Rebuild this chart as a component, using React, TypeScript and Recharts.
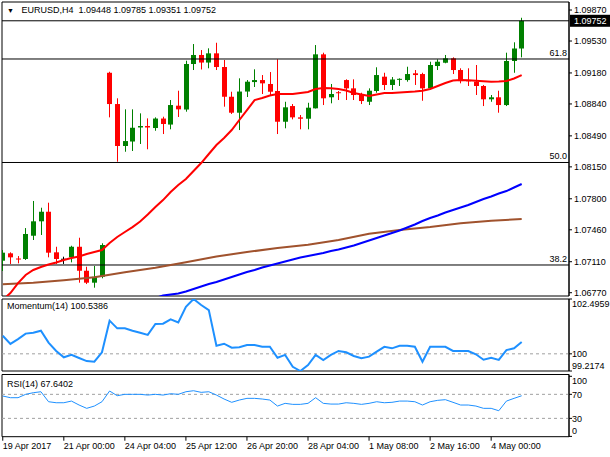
import React from "react";
import {
  Bar,
  ComposedChart,
  Line,
  LineChart,
  ReferenceArea,
  ReferenceLine,
  XAxis,
  YAxis,
} from "recharts";

// EURUSD H4 — candles, three moving averages, Momentum(14) and RSI(14) panes.
const FONT = "'Liberation Sans', Arial, sans-serif";
const UP = "#008000";
const DOWN = "#FF0000";
const DOJI = "#000000";

const opens = [
  1.07121, 1.07202, 1.07145, 1.0714, 1.07395, 1.07553, 1.07658, 1.07213, 1.07137, 1.07158,
  1.07274, 1.07011, 1.0688, 1.06945, 1.09182, 1.08839, 1.08379, 1.08428, 1.08582, 1.08598,
  1.08576, 1.0868, 1.08614, 1.08821, 1.08779, 1.09278, 1.09377, 1.09294, 1.09395, 1.09245,
  1.08919, 1.08744, 1.08976, 1.0908, 1.09102, 1.09059, 1.08982, 1.08645, 1.08817, 1.08693,
  1.08678, 1.08792, 1.09384, 1.08913, 1.08963, 1.09102, 1.09011, 1.08938, 1.08864, 1.08982,
  1.09139, 1.09048, 1.09102, 1.09102, 1.09176, 1.09168, 1.09011, 1.09256, 1.09292, 1.0934,
  1.09212, 1.09102, 1.09084, 1.09037, 1.08891, 1.08913, 1.08828, 1.09311, 1.09448,
];
const highs = [
  1.07238, 1.07213, 1.07172, 1.07479, 1.07776, 1.07702, 1.07757, 1.07274, 1.07165, 1.07285,
  1.07373, 1.07055, 1.07063, 1.07312, 1.09193, 1.08902, 1.08781, 1.08781, 1.08737, 1.08682,
  1.08693, 1.087, 1.08883, 1.08985, 1.09314, 1.09497, 1.09431, 1.0945, 1.09511, 1.09322,
  1.08974, 1.09121, 1.09102, 1.0922, 1.09157, 1.0919, 1.09329, 1.08864, 1.08839, 1.08719,
  1.08853, 1.09486, 1.09402, 1.09059, 1.08982, 1.0911, 1.0911, 1.08963, 1.09011, 1.09242,
  1.09182, 1.09135, 1.09121, 1.09248, 1.09212, 1.09182, 1.09303, 1.09329, 1.09377, 1.09351,
  1.09231, 1.09231, 1.09267, 1.09048, 1.08938, 1.08985, 1.09402, 1.09516, 1.09785,
];
const lows = [
  1.07008, 1.07085, 1.07092, 1.07129, 1.07348, 1.07403, 1.07158, 1.07085, 1.07085, 1.07103,
  1.0688, 1.06865, 1.06825, 1.06928, 1.08693, 1.08207, 1.08316, 1.08324, 1.08401, 1.08343,
  1.08546, 1.0851, 1.08562, 1.08697, 1.08755, 1.09212, 1.09218, 1.09231, 1.09212, 1.0881,
  1.0873, 1.08554, 1.08916, 1.09026, 1.08949, 1.08927, 1.0851, 1.08573, 1.08671, 1.08562,
  1.08562, 1.0879, 1.08828, 1.08847, 1.08883, 1.08883, 1.08883, 1.08839, 1.08828, 1.08963,
  1.08993, 1.08993, 1.09037, 1.09084, 1.09048, 1.08875, 1.09, 1.09212, 1.09286, 1.09168,
  1.09066, 1.09037, 1.08938, 1.08817, 1.08864, 1.08744, 1.08817, 1.09182, 1.09351,
];
const closes = [
  1.07209, 1.07158, 1.07134, 1.07414, 1.07553, 1.07658, 1.07209, 1.0714, 1.07137, 1.07274,
  1.07011, 1.0688, 1.06945, 1.07293, 1.08839, 1.08379, 1.08433, 1.08579, 1.08598, 1.08582,
  1.0868, 1.0862, 1.08828, 1.08781, 1.09278, 1.09377, 1.09294, 1.09395, 1.09245, 1.08919,
  1.08744, 1.08976, 1.09084, 1.09102, 1.09066, 1.08974, 1.08645, 1.08803, 1.08693, 1.08678,
  1.08799, 1.09384, 1.08902, 1.08949, 1.08957, 1.09011, 1.08938, 1.08872, 1.08985, 1.09157,
  1.09048, 1.09108, 1.0911, 1.09168, 1.09157, 1.09011, 1.09267, 1.09303, 1.0934, 1.09212,
  1.09091, 1.09088, 1.09037, 1.08891, 1.08913, 1.08828, 1.09311, 1.09448, 1.09752,
];

// moving averages (red fast, blue mid, brown slow)
const maRed = [
  1.0669, 1.06767, 1.06876, 1.06964, 1.07019, 1.07052, 1.07079, 1.07101, 1.07129, 1.0715,
  1.07167, 1.07194, 1.07216, 1.07238, 1.07315, 1.07381, 1.07436, 1.0749, 1.07551, 1.07627,
  1.0771, 1.07786, 1.07874, 1.07951, 1.08017, 1.08104, 1.08192, 1.08291, 1.0839, 1.08466,
  1.08554, 1.08664, 1.08773, 1.08883, 1.08905, 1.08932, 1.08949, 1.08949, 1.08949, 1.0896,
  1.08971, 1.09004, 1.09015, 1.09011, 1.09004, 1.08987, 1.0896, 1.08943, 1.08927, 1.08943,
  1.0896, 1.0896, 1.08965, 1.08971, 1.08976, 1.08985, 1.09004, 1.09037, 1.0907, 1.09097,
  1.09102, 1.09099, 1.09095, 1.09089, 1.09084, 1.09086, 1.09091, 1.09119, 1.09157,
];
const maBlue = [
  null, null, null, null, null, null, null, null, null, null,
  null, null, null, null, null, null, null, null, null, null,
  1.06712, 1.06739, 1.0675, 1.06761, 1.06783, 1.06811, 1.06838, 1.06865, 1.06887, 1.06915,
  1.06942, 1.0697, 1.06997, 1.07019, 1.07046, 1.07068, 1.0709, 1.07112, 1.07134, 1.07156,
  1.07172, 1.07189, 1.07205, 1.07227, 1.07244, 1.07266, 1.07288, 1.07315, 1.07342, 1.0737,
  1.07397, 1.07425, 1.07452, 1.07485, 1.07518, 1.07556, 1.07589, 1.07617, 1.07649, 1.07677,
  1.07704, 1.07732, 1.07765, 1.07797, 1.07825, 1.07858, 1.07885, 1.07924, 1.07962,
];
// slow average, read every 4th bar
const maBrownBars = [0, 4, 8, 12, 16, 20, 24, 28, 32, 36, 40, 44, 48, 52, 56, 60, 64, 68];
const maBrownValues = [
  1.06863, 1.0688, 1.06907, 1.06939, 1.06994, 1.07043, 1.07104, 1.07167, 1.07216,
  1.0726, 1.07296, 1.07348, 1.07416, 1.07457, 1.0749, 1.07532, 1.0756, 1.07578,
];

const momentum = [
  100.82, 100.45, 100.67, 100.92, 100.96, 101.05, 100.51, 100.13, 99.84, 99.95,
  99.81, 99.67, 99.64, 100.07, 101.51, 101.16, 101.16, 101.05, 100.96, 100.86,
  101.36, 101.37, 101.57, 101.43, 102.14, 102.4959, 102.22, 101.99, 100.37, 100.46,
  100.28, 100.3, 100.4, 100.4, 100.32, 100.32, 99.82, 99.95, 99.41, 99.2174,
  99.49, 99.95, 99.72, 99.95, 100.13, 100.07, 99.9, 99.8, 99.87, 100.1,
  100.32, 100.25, 100.37, 100.37, 100.32, 99.64, 100.32, 100.32, 100.32, 100.13,
  100.13, 100.13, 99.98, 99.73, 99.82, 99.72, 100.17, 100.25, 100.5386,
];
const rsi = [
  67.2, 64.4, 64.4, 70, 72.7, 74.3, 57.7, 56, 56, 58.8,
  52.2, 46.7, 50.5, 57.7, 75.5, 67.7, 70, 70, 70, 68.8,
  70, 68.8, 71, 70, 74.3, 76, 73.3, 74.3, 68.8, 62.2,
  56.7, 60.5, 63.3, 63.3, 62.2, 60.5, 50.5, 55, 53.3, 53.3,
  55, 64.4, 55, 53.8, 53.8, 56, 55, 53.3, 55, 57.7,
  56, 56.7, 58.8, 58.8, 57.7, 52.2, 57.7, 60, 61.1, 56.7,
  52.2, 52.2, 50.5, 46.7, 46.7, 42.7, 58.8, 63.3, 67.6402,
];

const priceTicks = [1.0677, 1.0711, 1.0746, 1.078, 1.0815, 1.0849, 1.0884, 1.0918, 1.0953, 1.0987];
const fibNames = ["61.8", "50.0", "38.2"];
const fibValues = [1.09333, 1.08198, 1.07074];
const momentumTicks = [99.2174, 100, 102.4959];
const rsiTicks = [0, 30, 70, 100];
const dateTickBars = [0, 8, 16, 24, 32, 40, 48, 56, 64];
const dateTickLabels = [
  "19 Apr 2017", "21 Apr 00:00", "24 Apr 04:00", "25 Apr 12:00", "26 Apr 20:00",
  "28 Apr 04:00", "1 May 08:00", "2 May 16:00", "4 May 00:00",
];

const rows = opens.map((o, i) => {
  const b = maBrownBars.indexOf(i);
  return {
    i,
    open: o,
    high: highs[i],
    low: lows[i],
    close: closes[i],
    range: [lows[i], highs[i]],
    maRed: maRed[i],
    maBlue: maBlue[i],
    maBrown: b >= 0 ? maBrownValues[b] : null,
    mom: momentum[i],
    rsi: rsi[i],
  };
});

const X_DOMAIN: [number, number] = [-0.1, 74.2];
const PRICE_DOMAIN: [number, number] = [1.06734, 1.09958];
const MOM_DOMAIN: [number, number] = [99.2174, 102.4959];
const RSI_DOMAIN: [number, number] = [-0.5, 103];
const last = closes[closes.length - 1];

const txt = { fontFamily: FONT, fontSize: 9, fill: "#000" };

function Candle(props: any) {
  const { x, y, width, height, payload } = props;
  if (x == null || y == null) return null;
  const { open, close, high, low } = payload;
  const top = Math.min(y, y + height);
  const h = Math.abs(height);
  const k = h / (high - low);
  const yOf = (v: number) => top + (high - v) * k;
  const cx = Math.round(x + width / 2) + 0.5;
  const b1 = yOf(Math.max(open, close));
  const b2 = yOf(Math.min(open, close));
  const color = close > open ? UP : close < open ? DOWN : DOJI;
  return (
    <g>
      <line x1={cx} x2={cx} y1={top} y2={top + h} stroke={color} strokeWidth={1} />
      {b2 - b1 < 1 ? (
        <line x1={cx - 2.5} x2={cx + 2.5} y1={b1} y2={b1} stroke={color} strokeWidth={1} />
      ) : (
        <rect x={cx - 2.5} y={b1} width={5} height={b2 - b1} fill={color} />
      )}
    </g>
  );
}

function FibLabel(props: any) {
  const { viewBox, text } = props;
  if (!viewBox) return null;
  return (
    <text x={viewBox.x + viewBox.width - 2} y={viewBox.y - 3} textAnchor="end" style={txt}>
      {text}
    </text>
  );
}

function BidTag(props: any) {
  const { viewBox } = props;
  if (!viewBox) return null;
  const x = viewBox.x + viewBox.width + 1;
  return (
    <g>
      <rect x={x} y={viewBox.y - 6} width={40} height={12} fill="#000" />
      <text x={x + 4} y={viewBox.y} dy="0.355em" style={{ ...txt, fill: "#fff" }}>
        {last.toFixed(5)}
      </text>
    </g>
  );
}

// edge labels of the sub-windows are pulled inside the pane, as the terminal does
function EdgeTick(props: any) {
  const { x, y, payload, lo, hi } = props;
  const v = payload.value;
  const shift = v === hi ? 4.5 : v === lo ? -5.5 : 0;
  return (
    <text x={x - 2} y={y + shift} dy="0.355em" textAnchor="start" style={txt}>
      {String(v)}
    </text>
  );
}

function DateTick(props: any) {
  const { x, y, payload } = props;
  const k = dateTickBars.indexOf(payload.value);
  return (
    <text x={x} y={y} dy="0.71em" textAnchor="start" style={txt}>
      {k >= 0 ? dateTickLabels[k] : ""}
    </text>
  );
}

function Frame({ y }: { y: [number, number] }) {
  return (
    <ReferenceArea
      x1={X_DOMAIN[0]}
      x2={X_DOMAIN[1]}
      y1={y[0]}
      y2={y[1]}
      fill="none"
      stroke="#000"
      strokeWidth={1}
      ifOverflow="visible"
    />
  );
}

export default function App() {
  return (
    <div
      style={{
        position: "absolute",
        left: 0,
        top: 0,
        width: 610,
        height: 457,
        background: "#fff",
        fontFamily: FONT,
      }}
    >
      <div style={{ position: "absolute", left: 0, top: 0 }}>
        <ComposedChart
          width={610}
          height={298}
          data={rows}
          margin={{ top: 2, right: 0, bottom: 2, left: 2 }}
        >
          <XAxis dataKey="i" type="number" domain={X_DOMAIN} allowDataOverflow hide />
          <YAxis
            orientation="right"
            width={41}
            domain={PRICE_DOMAIN}
            allowDataOverflow
            ticks={priceTicks}
            interval={0}
            tickFormatter={(v: number) => v.toFixed(5)}
            tick={txt}
            tickSize={3}
            tickLine={{ stroke: "#000" }}
            axisLine={{ stroke: "#000" }}
          />
          {fibValues.map((v, k) => (
            <ReferenceLine
              key={fibNames[k]}
              y={v}
              stroke="#000"
              strokeWidth={1}
              label={<FibLabel text={fibNames[k]} />}
            />
          ))}
          <ReferenceLine y={last} stroke="#000" strokeWidth={1} label={<BidTag />} />
          <Bar
            dataKey="range"
            barSize={5}
            isAnimationActive={false}
            shape={(p: any) => <Candle {...p} />}
          />
          <Line
            dataKey="maBrown"
            stroke="#A0522D"
            strokeWidth={2}
            dot={false}
            connectNulls
            isAnimationActive={false}
          />
          <Line
            dataKey="maBlue"
            stroke="#0000FF"
            strokeWidth={2}
            dot={false}
            isAnimationActive={false}
          />
          <Line
            dataKey="maRed"
            stroke="#FF0000"
            strokeWidth={2}
            dot={false}
            isAnimationActive={false}
          />
          <Frame y={PRICE_DOMAIN} />
        </ComposedChart>
      </div>

      <div style={{ position: "absolute", left: 0, top: 298 }}>
        <LineChart
          width={610}
          height={74}
          data={rows}
          margin={{ top: 1, right: 0, bottom: 1, left: 2 }}
        >
          <XAxis dataKey="i" type="number" domain={X_DOMAIN} allowDataOverflow hide />
          <YAxis
            orientation="right"
            width={41}
            domain={MOM_DOMAIN}
            allowDataOverflow
            ticks={momentumTicks}
            interval={0}
            tick={<EdgeTick lo={MOM_DOMAIN[0]} hi={MOM_DOMAIN[1]} />}
            tickSize={3}
            tickLine={{ stroke: "#000" }}
            axisLine={{ stroke: "#000" }}
          />
          <ReferenceLine y={100} stroke="#A0A0A0" strokeDasharray="3 3" />
          <Line
            dataKey="mom"
            stroke="#1E90FF"
            strokeWidth={2}
            dot={false}
            isAnimationActive={false}
          />
          <Frame y={MOM_DOMAIN} />
        </LineChart>
      </div>

      <div style={{ position: "absolute", left: 0, top: 374 }}>
        <LineChart
          width={610}
          height={83}
          data={rows}
          margin={{ top: 0.5, right: 0, bottom: 0, left: 2 }}
        >
          <XAxis
            dataKey="i"
            type="number"
            domain={X_DOMAIN}
            allowDataOverflow
            ticks={dateTickBars}
            interval={0}
            height={20.3}
            tick={<DateTick />}
            tickSize={4}
            tickLine={{ stroke: "#000" }}
            axisLine={false}
          />
          <YAxis
            orientation="right"
            width={41}
            domain={RSI_DOMAIN}
            allowDataOverflow
            ticks={rsiTicks}
            interval={0}
            tick={<EdgeTick lo={0} hi={100} />}
            tickSize={3}
            tickLine={{ stroke: "#000" }}
            axisLine={{ stroke: "#000" }}
          />
          <ReferenceLine y={70} stroke="#A0A0A0" strokeDasharray="3 3" />
          <ReferenceLine y={30} stroke="#A0A0A0" strokeDasharray="3 3" />
          <Line
            dataKey="rsi"
            stroke="#1E90FF"
            strokeWidth={1}
            dot={false}
            isAnimationActive={false}
          />
          <Frame y={RSI_DOMAIN} />
        </LineChart>
      </div>

      <div style={{ position: "absolute", left: 7, top: 4.5, fontSize: 9, color: "#000", whiteSpace: "pre" }}>
        <span style={{ fontSize: 7 }}>▼</span>
        {"   EURUSD,H4  1.09448 1.09785 1.09351 1.09752"}
      </div>
      <div style={{ position: "absolute", left: 7, top: 301, fontSize: 9, color: "#000" }}>
        Momentum(14) 100.5386
      </div>
      <div style={{ position: "absolute", left: 7, top: 378.5, fontSize: 9, color: "#000" }}>
        RSI(14) 67.6402
      </div>
    </div>
  );
}
